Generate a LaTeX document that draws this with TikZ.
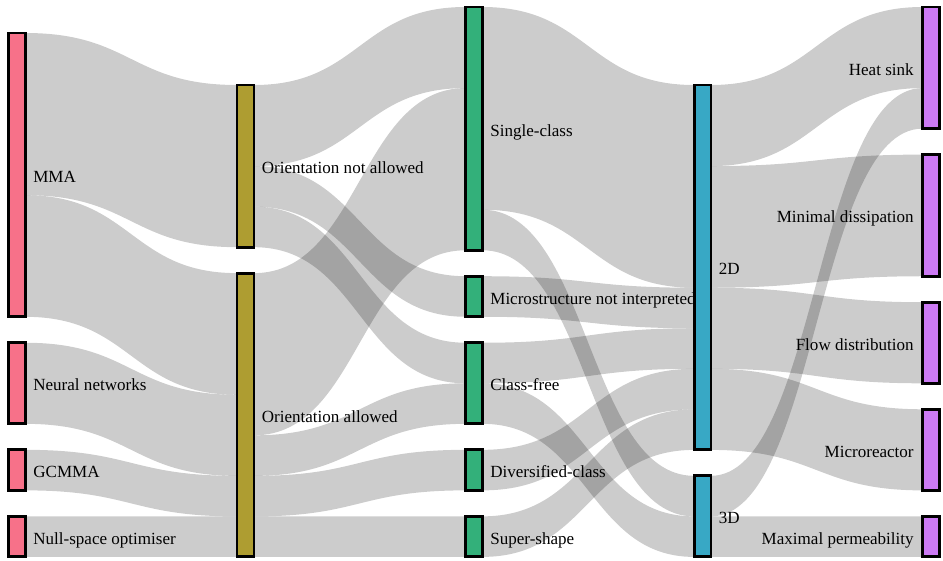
\documentclass[tikz,border=0pt]{standalone}
\usepackage{fontspec}
\setmainfont{Liberation Serif}
\usetikzlibrary{positioning,calc}
\definecolor{methodcol}{HTML}{F77189}
\definecolor{orientcol}{HTML}{AE9D31}
\definecolor{classcol}{HTML}{33B07A}
\definecolor{dimcol}{HTML}{38A8C5}
\definecolor{appcol}{HTML}{CC7AF4}
\pgfdeclarelayer{flows}
\pgfdeclarelayer{labels}
\pgfsetlayers{flows,labels,main}
\def\unitpx{40.545}
\newcommand{\sankeyflow}[5]{%
    \path ($(#1.north east)+(0,#2*\unitpx)$) coordinate (fa)
          ($(#3.north west)+(0,#4*\unitpx)$) coordinate (fb)
          ($(fa)+(0,#5*\unitpx)$) coordinate (fc)
          ($(fb)+(0,#5*\unitpx)$) coordinate (fd);
    \fill[link] (fa) .. controls ($(fa)!0.5!(fb |- fa)$) and ($(fb)!0.5!(fa |- fb)$) .. (fb)
        -- (fd) .. controls ($(fd)!0.5!(fc |- fd)$) and ($(fc)!0.5!(fd |- fc)$) .. (fc) -- cycle;
}
\tikzset{
    bar/.style = {
        shape=rectangle,
        draw,
        line width=1.7pt,
        minimum width=0.34cm,
        minimum height=#1*0.8109cm,
        inner sep=0pt,
        outer sep=0pt},
    methodbar/.style = {
        bar=#1,
        fill=methodcol},
    orientbar/.style = {
        bar=#1,
        fill=orientcol},
    classbar/.style = {
        bar=#1,
        fill=classcol},
    dimbar/.style = {
        bar=#1,
        fill=dimcol},
    appbar/.style = {
        bar=#1,
        fill=appcol},
    barlabel/.style = {
        inner sep=0pt,
        yshift=-0.05cm,
        text height=1.5ex,
        text depth=0.25ex,
        font=\fontsize{9.7}{11}\selectfont},
    link/.style = {
        fill=black,
        fill opacity=0.2}
}
\begin{document}
\begin{tikzpicture}[
    x             = 0.02cm,
    y             = -0.02cm,
    node distance = 0.52cm
]
\useasboundingbox (0,0) rectangle (943,561);

\node [methodbar=7, anchor=north west] (mma) at (8.5,33) {};
\node [methodbar=2, below=of mma] (neural) {};
\node [methodbar=1, below=of neural] (gcmma) {};
\node [methodbar=1, below=of gcmma] (nullspace) {};

\node [orientbar=4, anchor=north west] (notallowed) at (237,85) {};
\node [orientbar=7, below=of notallowed] (allowed) {};

\node [classbar=6, anchor=north west] (single) at (465.5,7) {};
\node [classbar=1, below=of single] (notinterp) {};
\node [classbar=2, below=of notinterp] (classfree) {};
\node [classbar=1, below=of classfree] (diversified) {};
\node [classbar=1, below=of diversified] (supershape) {};

\node [dimbar=9, anchor=north west] (twod) at (694,85) {};
\node [dimbar=2, below=of twod] (threed) {};

\node [appbar=3, anchor=north west] (heatsink) at (922.5,7) {};
\node [appbar=3, below=of heatsink] (dissipation) {};
\node [appbar=2, below=of dissipation] (distribution) {};
\node [appbar=2, below=of distribution] (reactor) {};
\node [appbar=1, below=of reactor] (permeability) {};

\begin{pgfonlayer}{labels}
\node [barlabel, right=0.15cm of mma] {MMA};
\node [barlabel, right=0.15cm of neural] {Neural networks};
\node [barlabel, right=0.15cm of gcmma] {GCMMA};
\node [barlabel, right=0.15cm of nullspace] {Null-space optimiser};
\node [barlabel, right=0.15cm of notallowed] {Orientation not allowed};
\node [barlabel, right=0.15cm of allowed] {Orientation allowed};
\node [barlabel, right=0.15cm of single] {Single-class};
\node [barlabel, right=0.15cm of notinterp] {Microstructure not interpreted};
\node [barlabel, right=0.15cm of classfree] {Class-free};
\node [barlabel, right=0.15cm of diversified] {Diversified-class};
\node [barlabel, right=0.15cm of supershape] {Super-shape};
\node [barlabel, right=0.15cm of twod] {2D};
\node [barlabel, right=0.15cm of threed] {3D};
\node [barlabel, left=0.17cm of heatsink] {Heat sink};
\node [barlabel, left=0.17cm of dissipation] {Minimal dissipation};
\node [barlabel, left=0.17cm of distribution] {Flow distribution};
\node [barlabel, left=0.17cm of reactor] {Microreactor};
\node [barlabel, left=0.17cm of permeability] {Maximal permeability};
\end{pgfonlayer}

\begin{pgfonlayer}{flows}
\sankeyflow{mma}{0}{notallowed}{0}{4}
\sankeyflow{mma}{4}{allowed}{0}{3}
\sankeyflow{neural}{0}{allowed}{3}{2}
\sankeyflow{gcmma}{0}{allowed}{5}{1}
\sankeyflow{nullspace}{0}{allowed}{6}{1}
\sankeyflow{notallowed}{0}{single}{0}{2}
\sankeyflow{notallowed}{2}{notinterp}{0}{1}
\sankeyflow{notallowed}{3}{classfree}{0}{1}
\sankeyflow{allowed}{0}{single}{2}{4}
\sankeyflow{allowed}{4}{classfree}{1}{1}
\sankeyflow{allowed}{5}{diversified}{0}{1}
\sankeyflow{allowed}{6}{supershape}{0}{1}
\sankeyflow{single}{0}{twod}{0}{5}
\sankeyflow{single}{5}{threed}{0}{1}
\sankeyflow{notinterp}{0}{twod}{5}{1}
\sankeyflow{classfree}{0}{twod}{6}{1}
\sankeyflow{classfree}{1}{threed}{1}{1}
\sankeyflow{diversified}{0}{twod}{7}{1}
\sankeyflow{supershape}{0}{twod}{8}{1}
\sankeyflow{twod}{0}{heatsink}{0}{2}
\sankeyflow{twod}{2}{dissipation}{0}{3}
\sankeyflow{twod}{5}{distribution}{0}{2}
\sankeyflow{twod}{7}{reactor}{0}{2}
\sankeyflow{threed}{0}{heatsink}{2}{1}
\sankeyflow{threed}{1}{permeability}{0}{1}
\end{pgfonlayer}

\end{tikzpicture}
\end{document}
